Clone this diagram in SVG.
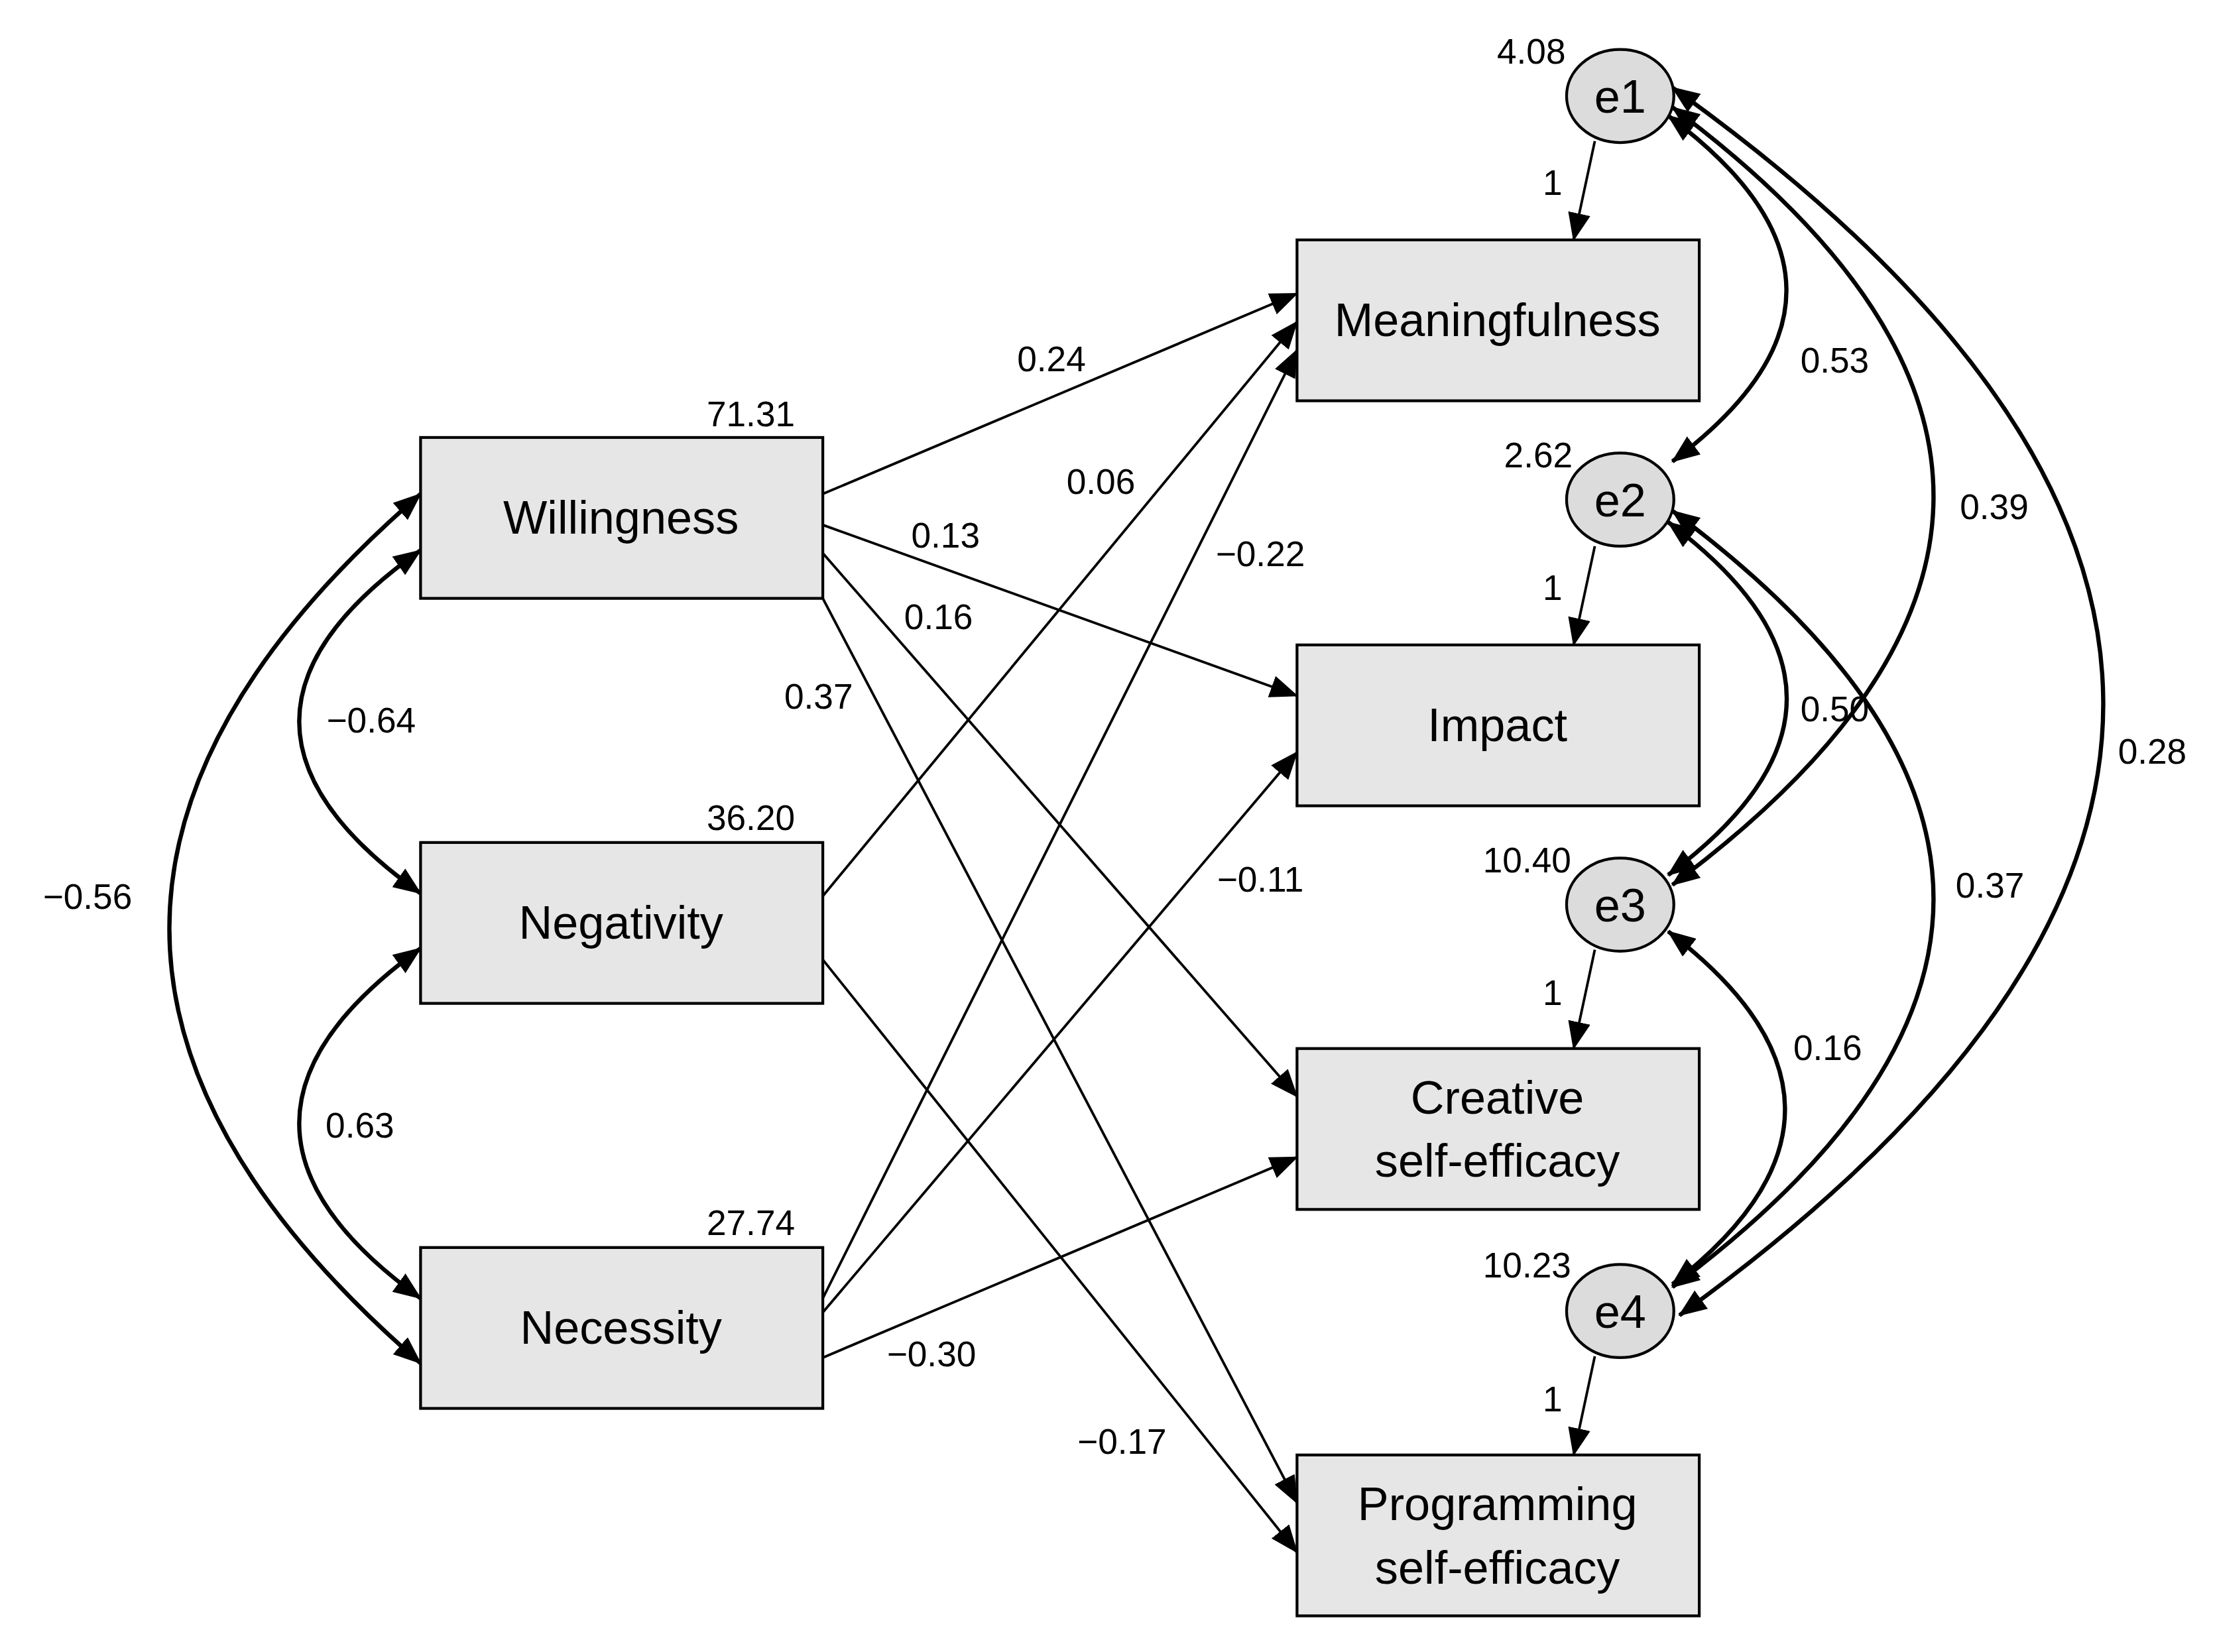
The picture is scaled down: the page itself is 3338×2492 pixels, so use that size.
<svg xmlns="http://www.w3.org/2000/svg" width="3338" height="2492" viewBox="0 0 3338 2492">
<style>
.box{fill:#e6e6e6;stroke:#000;stroke-width:2}
.ell{fill:#dcdcdc;stroke:#000;stroke-width:2}
.t{font-family:"Liberation Sans",Arial,sans-serif;font-size:33px;text-anchor:middle;fill:#000}
.l{font-family:"Liberation Sans",Arial,sans-serif;font-size:25px;text-anchor:middle;fill:#000}
.p{fill:none;stroke:#000;stroke-width:1.8;marker-end:url(#a)}
.c{fill:none;stroke:#000;stroke-width:3;marker-end:url(#a);marker-start:url(#a)}
</style>
<defs>
<marker id="a" markerUnits="userSpaceOnUse" markerWidth="20" markerHeight="16" refX="19" refY="8" orient="auto-start-reverse" viewBox="0 0 20 16"><path d="M0,0 L20,8 L0,16 z" fill="#000"/></marker>
</defs>
<rect width="3338" height="2492" fill="#fff"/>
<g transform="scale(2.1288)">
<g id="connectors">
<path class="p" d="M583,350 L919,208"/>
<path class="p" d="M583,372 L919,493"/>
<path class="p" d="M583,392 L919,777"/>
<path class="p" d="M583,424 L919,1065"/>
<path class="p" d="M583,635 L919,228"/>
<path class="p" d="M583,680 L919,1100"/>
<path class="p" d="M583,920 L919,248"/>
<path class="p" d="M583,930 L919,533"/>
<path class="p" d="M583,962 L919,820"/>
<path class="p" d="M1130,100 L1115,170"/>
<path class="p" d="M1130,387 L1115,457"/>
<path class="p" d="M1130,673 L1115,743"/>
<path class="p" d="M1130,961 L1115,1031"/>
<path class="c" d="M298,390 Q126,511 298,633"/>
<path class="c" d="M298,672 Q126,796 298,920"/>
<path class="c" d="M298,350 Q-58,658 298,966"/>
<path class="c" d="M1182,82 Q1348,205 1185,327"/>
<path class="c" d="M1185,76 Q1555,352 1185,627"/>
<path class="c" d="M1185,62 Q1793,497 1190,932"/>
<path class="c" d="M1182,370 Q1350,495 1182,620"/>
<path class="c" d="M1185,362 Q1555,637 1185,912"/>
<path class="c" d="M1182,660 Q1346,785 1185,910"/>
</g>
<g id="labels">
<text class="l" x="745" y="263">0.24</text>
<text class="l" x="670" y="388">0.13</text>
<text class="l" x="665" y="446">0.16</text>
<text class="l" x="580" y="502">0.37</text>
<text class="l" x="780" y="350">0.06</text>
<text class="l" x="795" y="1030">−0.17</text>
<text class="l" x="893" y="401">−0.22</text>
<text class="l" x="893" y="632">−0.11</text>
<text class="l" x="660" y="968">−0.30</text>
<text class="l" x="263" y="519">−0.64</text>
<text class="l" x="255" y="806">0.63</text>
<text class="l" x="62" y="644">−0.56</text>
<text class="l" x="1300" y="264">0.53</text>
<text class="l" x="1413" y="368">0.39</text>
<text class="l" x="1525" y="541">0.28</text>
<text class="l" x="1300" y="511">0.50</text>
<text class="l" x="1410" y="636">0.37</text>
<text class="l" x="1295" y="751">0.16</text>
<text class="l" x="1100" y="138">1</text>
<text class="l" x="1100" y="425">1</text>
<text class="l" x="1100" y="712">1</text>
<text class="l" x="1100" y="1000">1</text>
<text class="l" x="532" y="302">71.31</text>
<text class="l" x="532" y="588">36.20</text>
<text class="l" x="532" y="875">27.74</text>
<text class="l" x="1085" y="45">4.08</text>
<text class="l" x="1090" y="331">2.62</text>
<text class="l" x="1082" y="618">10.40</text>
<text class="l" x="1082" y="905">10.23</text>
</g>
<g id="willingness"><rect class="box" x="298" y="310" width="285" height="114"/><text class="t" x="440" y="378">Willingness</text></g>
<g id="negativity"><rect class="box" x="298" y="597" width="285" height="114"/><text class="t" x="440" y="665">Negativity</text></g>
<g id="necessity"><rect class="box" x="298" y="884" width="285" height="114"/><text class="t" x="440" y="952">Necessity</text></g>
<g id="meaningfulness"><rect class="box" x="919" y="170" width="285" height="114"/><text class="t" x="1061" y="238">Meaningfulness</text></g>
<g id="impact"><rect class="box" x="919" y="457" width="285" height="114"/><text class="t" x="1061" y="525">Impact</text></g>
<g id="creative"><rect class="box" x="919" y="743" width="285" height="114"/><text class="t" x="1061" y="789">Creative</text><text class="t" x="1061" y="834">self-efficacy</text></g>
<g id="programming"><rect class="box" x="919" y="1031" width="285" height="114"/><text class="t" x="1061" y="1077">Programming</text><text class="t" x="1061" y="1122">self-efficacy</text></g>
<g id="e1"><ellipse class="ell" cx="1148" cy="68" rx="38" ry="33"/><text class="t" x="1148" y="80">e1</text></g>
<g id="e2"><ellipse class="ell" cx="1148" cy="354" rx="38" ry="33"/><text class="t" x="1148" y="366">e2</text></g>
<g id="e3"><ellipse class="ell" cx="1148" cy="641" rx="38" ry="33"/><text class="t" x="1148" y="653">e3</text></g>
<g id="e4"><ellipse class="ell" cx="1148" cy="929" rx="38" ry="33"/><text class="t" x="1148" y="941">e4</text></g>
</g>
</svg>
